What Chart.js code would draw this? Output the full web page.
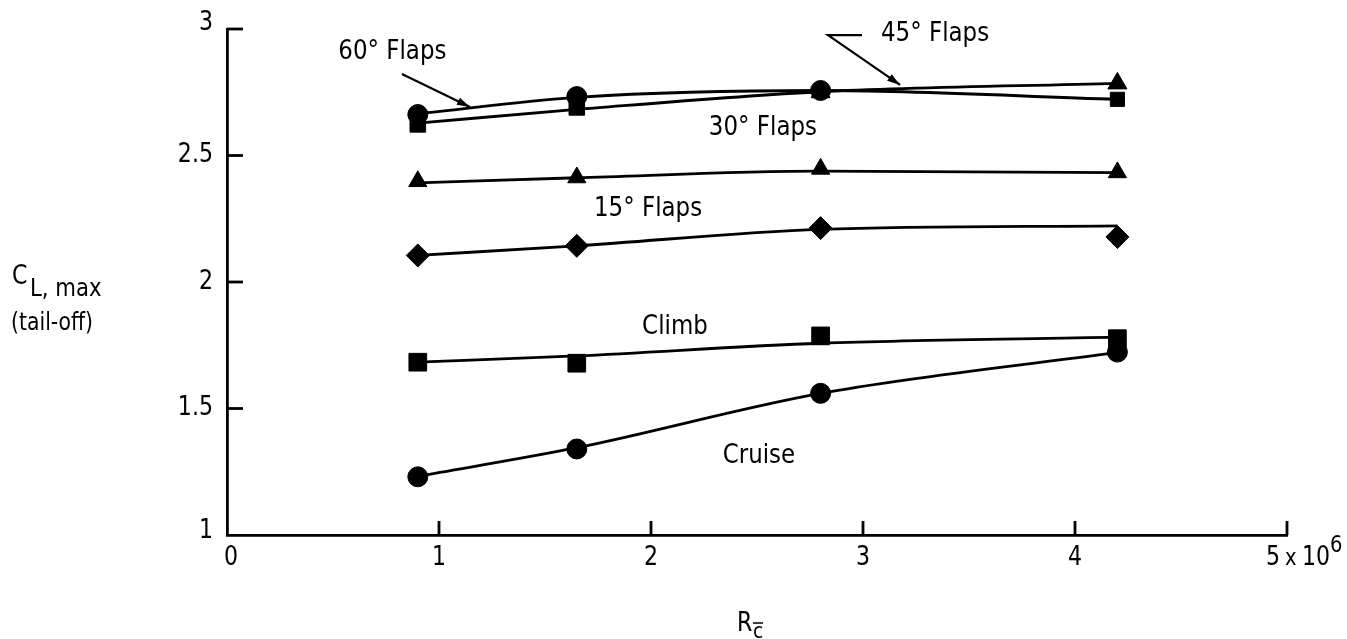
<!DOCTYPE html>
<html>
<head>
<meta charset="utf-8">
<script src="https://cdn.jsdelivr.net/npm/chart.js@4.4.0/dist/chart.umd.min.js"></script>
<style>
  html, body { margin: 0; padding: 0; background: #fff; }
  #wrap { width: 1347px; height: 639px; }
</style>
</head>
<body>
<div id="wrap"><canvas id="chart" width="1347" height="639"></canvas></div>
<script>
// Reynolds number (x 10^6) of each test point
const reynolds = [0.9, 1.65, 2.8, 4.2];

// measured CL,max (symbols)
const cruise = [1.23, 1.34, 1.56, 1.723];
const climb = [1.683, 1.679, 1.787, 1.776];
const flaps15 = [2.105, 2.143, 2.213, 2.178];
const flaps30 = [2.398, 2.413, 2.447, 2.433];
const flaps45 = [2.623, 2.69, 2.75, 2.785];
const flaps60 = [2.662, 2.733, 2.757, 2.722];

// faired curves at the same Reynolds numbers
const cruiseCurve = [1.232, 1.345, 1.56, 1.722];
const climbCurve = [1.683, 1.708, 1.758, 1.782];
const flaps15Curve = [2.105, 2.143, 2.208, 2.222];
const flaps30Curve = [2.392, 2.412, 2.438, 2.432];
const flaps45Curve = [2.628, 2.682, 2.752, 2.785];
const flaps60Curve = [2.665, 2.73, 2.757, 2.722];

// axis ticks
const xTicks = [0, 1, 2, 3, 4, 5];
const xTickLabels = ['0', '1', '2', '3', '4', '5'];
const yTicks = [1, 1.5, 2, 2.5, 3];
const yTickLabels = ['1', '1.5', '2', '2.5', '3'];

const FONT = '"DejaVu Sans", "Liberation Sans", sans-serif';
const NARROW = 0.85; // 元図の細長い書体に寄せるための横圧縮

// 値の配列から {x, y} の点列を作る
function pts(values) {
    return reynolds.map((x, i) => ({ x: x, y: values[i] }));
}

function curve(values) {
    return {
        data: pts(values),
        borderColor: '#000',
        borderWidth: 2.8,
        pointRadius: 0,
        cubicInterpolationMode: 'monotone',
        fill: false,
        order: 2
    };
}

function symbols(values, style, radius) {
    return {
        data: pts(values),
        showLine: false,
        pointStyle: style,
        pointRadius: radius,
        pointBackgroundColor: '#000',
        pointBorderColor: '#000',
        pointBorderWidth: 1,
        order: 1
    };
}

// 注記（ラベルと矢印）はデータ座標で置く
const notes = [
    { text: '60\u00b0 Flaps', x: 0.78, y: 2.909 },
    { text: '45\u00b0 Flaps', x: 3.34, y: 2.98 },
    { text: '30\u00b0 Flaps', x: 2.528, y: 2.609 },
    { text: '15\u00b0 Flaps', x: 1.986, y: 2.289 },
    { text: 'Climb', x: 2.113, y: 1.822 },
    { text: 'Cruise', x: 2.509, y: 1.312 }
];
const arrows = [
    [[0.825, 2.822], [1.146, 2.692]],
    [[2.995, 2.976], [2.835, 2.976], [3.175, 2.779]]
];

// 横に少し詰めた文字を書く。戻り値は描いた幅
function drawText(ctx, str, x, y, size, align, baseline) {
    ctx.save();
    ctx.font = size + 'px ' + FONT;
    ctx.textBaseline = baseline || 'alphabetic';
    ctx.textAlign = 'left';
    const w = ctx.measureText(str).width * NARROW;
    let left = x;
    if (align === 'center') left = x - w / 2;
    if (align === 'right') left = x - w;
    ctx.translate(left, y);
    ctx.scale(NARROW, 1);
    ctx.fillText(str, 0, 0);
    ctx.restore();
    return w;
}

function arrowHead(ctx, x0, y0, x1, y1) {
    const a = Math.atan2(y1 - y0, x1 - x0);
    const len = 13, w = 4;
    ctx.beginPath();
    ctx.moveTo(x1, y1);
    ctx.lineTo(x1 - len * Math.cos(a) + w * Math.sin(a), y1 - len * Math.sin(a) - w * Math.cos(a));
    ctx.lineTo(x1 - len * Math.cos(a) - w * Math.sin(a), y1 - len * Math.sin(a) + w * Math.cos(a));
    ctx.closePath();
    ctx.fill();
}

const decorations = {
    id: 'decorations',
    afterDraw(chart) {
        const ctx = chart.ctx;
        const xs = chart.scales.x, ys = chart.scales.y;
        const area = chart.chartArea;
        ctx.save();
        ctx.strokeStyle = '#000';
        ctx.fillStyle = '#000';
        ctx.lineWidth = 2.8;

        // 目盛り線（内向き）
        yTicks.forEach(v => {
            if (v === 1) return;
            const py = ys.getPixelForValue(v);
            ctx.beginPath();
            ctx.moveTo(area.left, py);
            ctx.lineTo(area.left + 16, py);
            ctx.stroke();
        });
        xTicks.forEach(v => {
            if (v === 0) return;
            const px = xs.getPixelForValue(v);
            ctx.beginPath();
            ctx.moveTo(px, area.bottom);
            ctx.lineTo(px, area.bottom - 14);
            ctx.stroke();
        });

        // 目盛りラベル
        yTicks.forEach((v, i) => {
            let py = ys.getPixelForValue(v);
            if (v === 3) py -= 6;
            if (v === 1) py -= 4;
            drawText(ctx, yTickLabels[i], area.left - 14, py, 26, 'right', 'middle');
        });
        xTicks.forEach((v, i) => {
            if (v === 5) return;
            const px = xs.getPixelForValue(v) + (v === 0 ? 4 : 0);
            drawText(ctx, xTickLabels[i], px, area.bottom + 23, 26, 'center', 'middle');
        });
        // 5 x 10^6 （「5」は目盛りの少し左に寄っている）
        const p5 = xs.getPixelForValue(5);
        drawText(ctx, xTickLabels[5], p5 - 14, area.bottom + 23, 26, 'center', 'middle');
        drawText(ctx, 'x', p5 - 2, area.bottom + 24, 23, 'left', 'middle');
        drawText(ctx, '10', p5 + 15, area.bottom + 23, 26, 'left', 'middle');
        drawText(ctx, '6', p5 + 43, area.bottom + 11, 23, 'left', 'middle');

        // 軸タイトル
        drawText(ctx, 'C', 12, 284, 26, 'left');
        drawText(ctx, 'L, max', 30, 296, 25, 'left');
        drawText(ctx, '(tail-off)', 11, 330, 24, 'left');

        drawText(ctx, 'R', 737, 631, 26, 'left');
        drawText(ctx, 'c', 753, 638, 22, 'left');
        ctx.lineWidth = 1.5;
        ctx.beginPath();
        ctx.moveTo(753, 623);
        ctx.lineTo(763, 623);
        ctx.stroke();

        // 注記
        notes.forEach(n => {
            drawText(ctx, n.text, xs.getPixelForValue(n.x), ys.getPixelForValue(n.y), 27, 'center', 'middle');
        });
        ctx.lineWidth = 2.2;
        arrows.forEach(path => {
            const p = path.map(([x, y]) => [xs.getPixelForValue(x), ys.getPixelForValue(y)]);
            ctx.beginPath();
            ctx.moveTo(p[0][0], p[0][1]);
            for (let i = 1; i < p.length; i++) ctx.lineTo(p[i][0], p[i][1]);
            ctx.stroke();
            const n = p.length;
            arrowHead(ctx, p[n - 2][0], p[n - 2][1], p[n - 1][0], p[n - 1][1]);
        });
        ctx.restore();
    }
};

const ctx = document.getElementById('chart').getContext('2d');
new Chart(ctx, {
    type: 'line',
    data: {
        datasets: [
            curve(cruiseCurve),
            curve(climbCurve),
            curve(flaps15Curve),
            curve(flaps30Curve),
            curve(flaps45Curve),
            curve(flaps60Curve),
            symbols(cruise, 'circle', 10),
            symbols(climb, 'rect', 12.5),
            symbols(flaps15, 'rectRot', 11.5),
            symbols(flaps30, 'triangle', 10.5),
            symbols(flaps45, ['rect', 'rect', 'triangle', 'triangle'], 11),
            symbols(flaps60, ['circle', 'circle', 'circle', 'rect'], 10)
        ]
    },
    options: {
        responsive: false,
        animation: false,
        devicePixelRatio: 1,
        layout: {
            autoPadding: false,
            padding: { top: 29, right: 60, bottom: 0, left: 0 }
        },
        plugins: {
            legend: { display: false },
            tooltip: { enabled: false }
        },
        scales: {
            x: {
                type: 'linear',
                min: 0,
                max: 5,
                ticks: { display: false },
                grid: { display: true, drawOnChartArea: false, drawTicks: false, color: 'rgba(0,0,0,0)' },
                border: { display: true, color: '#000', width: 2.8 },
                afterFit(scale) { scale.height = 104; }
            },
            y: {
                type: 'linear',
                min: 1,
                max: 3,
                ticks: { display: false },
                grid: { display: true, drawOnChartArea: false, drawTicks: false, color: 'rgba(0,0,0,0)' },
                border: { display: true, color: '#000', width: 2.8 },
                afterFit(scale) { scale.width = 227; }
            }
        }
    },
    plugins: [decorations]
});
</script>
</body>
</html>
